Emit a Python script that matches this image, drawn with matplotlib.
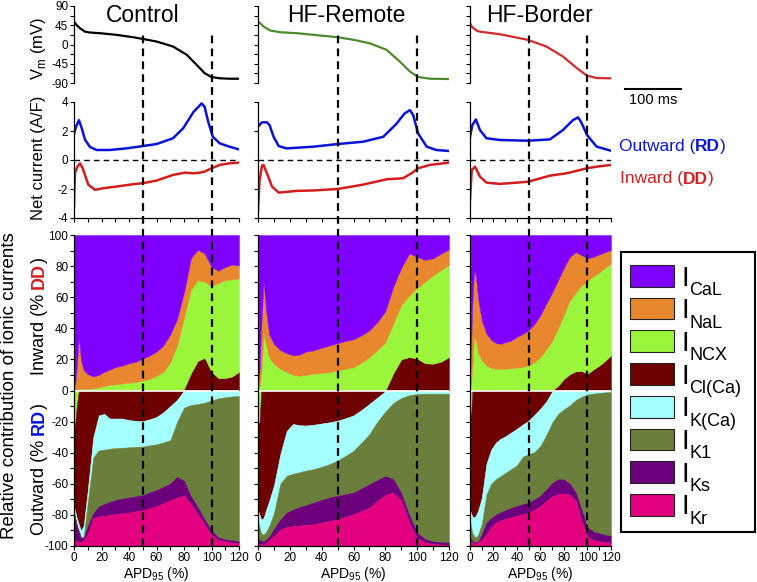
import matplotlib
matplotlib.use('Agg')
import matplotlib.pyplot as plt
from matplotlib.patches import Rectangle
from matplotlib.lines import Line2D
from matplotlib.ticker import MultipleLocator

plt.rcParams['font.family'] = ['Liberation Sans', 'DejaVu Sans']
plt.rcParams['axes.unicode_minus'] = False
plt.rcParams['mathtext.fontset'] = 'custom'
plt.rcParams['mathtext.rm'] = 'Liberation Sans'

# ---------------- data ----------------
titles = ['Control', 'HF-Remote', 'HF-Border']
cur_names = ['CaL', 'NaL', 'NCX', 'Cl(Ca)', 'K(Ca)', 'K1', 'Ks', 'Kr']
cur_colors = ['#8000FF', '#E8872E', '#9BF53A', '#6E0000', '#A6FFFF', '#6B7F3C', '#6C007C', '#E2007F']
dashed_apd = [50, 100]

apd = [0, 1, 2, 3.5, 5, 7, 10, 14, 18, 22, 26, 30, 35, 40, 45, 50, 55, 60, 65, 70,
       75, 80, 85, 90, 95, 100, 105, 110, 115, 120]

# cumulative upper boundaries of inward contributions (% DD), bottom -> top
ctrl_in_clca = [0]*21 + [1, 11, 19, 21, 12, 8, 8, 9, 12]
ctrl_in_ncx = [0, 0, 0.5, 1, 1, 1, 1, 1.5, 2, 3, 3.5, 4, 4.5, 5, 5.5, 6.5, 7.5, 9.5, 12, 18,
               29, 47, 65, 71, 70, 67, 69, 71, 71.5, 72]
ctrl_in_nal = [2, 5, 15, 35, 20, 13, 10.5, 9, 10, 12, 13.5, 15, 16, 17.5, 18.5, 20.5, 22.5, 25, 29, 36,
               46, 63, 85, 90.5, 88, 79.5, 77, 79.5, 81, 80.5]
# cumulative lower boundaries of outward contributions (% RD), top -> bottom
ctrl_out_ncx = [-25, -20, -10] + [0]*27
ctrl_out_clca = [-75, -78, -82, -86, -90, -87, -64, -30, -16, -15, -18, -18, -18, -19, -19.5, -19.7, -18.5, -17, -14, -10,
                 -6, 0, 0, 0, 0, 0, 0, 0, 0, 0]
ctrl_out_kca = [-78, -82, -86, -90, -94, -94, -72, -43, -38.5, -38, -37.4, -37, -36.8, -36.5, -36.2, -36, -35.2, -34.6, -33.3, -32,
                -20, -11, -9.3, -8.7, -7.8, -6.4, -5, -4.3, -3.8, -3.5]
ctrl_out_k1 = [-79, -83, -87, -91, -95, -95, -87, -79, -74.5, -73, -71.6, -70.5, -69.5, -68.8, -68, -67.3, -65.5, -64, -62, -59.8,
               -55.5, -58, -68, -75, -83, -90, -94.5, -95.8, -96.3, -97]
ctrl_out_ks = [-96, -97, -97, -97, -97.5, -96.5, -92, -82, -81, -80.5, -80, -79.5, -79, -78.5, -77.7, -77, -75.7, -74.4, -72.5, -70.5,
               -69, -67.5, -73, -79.5, -86.2, -93, -96, -97, -97.8, -98.3]

rem_in_clca = [0]*22 + [11, 20, 21.5, 20.5, 17.5, 17.2, 18.5, 21.5]
rem_in_ncx = [0, 3, 10, 36, 30, 21, 17, 14, 12, 10, 9.5, 10, 10.8, 11.3, 11.8, 12.9, 14, 15, 18, 21.5,
              26, 31, 43, 55, 61, 66, 70, 74, 77.5, 80.6]
rem_in_nal = [3, 13, 40, 70, 52, 36, 30, 26, 24, 22.6, 23, 25, 25.8, 27.5, 29, 30.5, 31.8, 33, 35.5, 38.7,
              44, 51, 66.7, 79, 88, 86, 84, 85, 88, 90.8]
rem_out_ncx = [-22, -20] + [0]*28
rem_out_clca = [-77, -80, -83, -82, -77, -71, -61, -41, -26, -21.5, -22.3, -22.5, -22, -21.2, -20.4, -19.4, -17.8, -16, -12.5, -8.6,
                -4.5, -0.5] + [0]*8
rem_out_kca = [-84, -88, -92, -92.5, -91, -87, -79, -60, -54.8, -53.5, -52.5, -51.5, -50.5, -49, -47.3, -45, -42, -38.7, -33.5, -28,
               -20, -13.5, -8, -4.8, -3, -2.2, -2, -2, -2, -2]
rem_out_k1 = [-95, -96, -96.5, -96.8, -96, -94, -89, -83, -78.5, -76.5, -75, -73.8, -72, -70.3, -68.8, -67.7, -66.7, -65.6, -63, -60.2,
              -57.5, -55, -57, -66, -80, -91.5, -95.5, -97, -97.5, -97.8]
rem_out_ks = [-98, -98.5, -99, -99, -98, -96, -93.5, -89.5, -87.7, -87.2, -86.8, -86.5, -86, -85, -83.9, -82.8, -81.2, -79.6, -77.5, -75.3,
              -71, -67, -65.6, -71, -85, -95, -97.8, -98.7, -99, -99.4]

bor_in_clca = [0]*20 + [3, 7.5, 10.5, 12.3, 12.5, 10.8, 13.5, 16, 19, 22.6]
bor_in_ncx = [0, 5, 15, 35, 32, 24, 19.4, 16, 14.5, 14, 14, 14, 14.3, 14.7, 15.3, 16, 18.5, 21.5, 26.5, 32,
              40, 49, 58, 63, 67.5, 70.5, 73.5, 76, 79, 81.7]
bor_in_nal = [5, 30, 56, 77, 73.5, 58.5, 45, 36.6, 32.5, 30.5, 30, 31, 32.2, 34.5, 36.5, 38.8, 43, 48.5, 56, 63,
              71, 79, 86, 89, 87, 85, 86, 87.5, 89, 90.3]
bor_out_ncx = [-15, -15] + [0]*28
bor_out_clca = [-77, -79, -81, -81.5, -80.5, -77, -69, -47, -38, -33.5, -31, -29.5, -27, -24.5, -21.8, -19.3, -15.5, -11.5, -7, -0.5] + [0]*10
bor_out_kca = [-84, -88, -91.5, -93.5, -94.5, -92.5, -86, -66.7, -60, -57, -55, -53, -50.5, -48, -42.5, -41, -39.5, -35.5, -28.5, -20.5,
               -15, -12, -9.5, -6, -4, -2.5, -2, -1.5, -1.2, -1]
bor_out_k1 = [-94.6, -95.5, -96.5, -97.5, -97.6, -96.8, -92.5, -85, -82, -79.8, -78.3, -77, -75.5, -74.2, -73, -72, -70, -67.6, -63.5, -59.5,
              -57, -57.2, -60, -65.5, -77, -88, -90.7, -91.8, -92.8, -93.5]
bor_out_ks = [-97, -97.5, -98, -98.5, -98.3, -97.5, -95.7, -92.5, -88, -85, -83.5, -82.5, -81.5, -80.6, -79.5, -78.5, -76.5, -74.2, -71, -68,
              -66.7, -66.2, -67, -71, -84, -94, -96.2, -97, -97.5, -97.8]

# membrane potential traces (mV)
ctrl_vm_x = [0, 2, 4.4, 8, 11.6, 19, 31, 43, 50, 60, 72, 82, 89, 95, 100, 106, 113, 120]
ctrl_vm = [53.5, 45, 38, 30, 28, 26.4, 22.5, 17, 13, 7, -4.7, -24, -47, -67, -76, -79, -80, -80]
rem_vm_x = [1, 3.5, 7.7, 14, 24.4, 35, 50, 60, 70, 80.8, 89, 95.4, 100.6, 108, 120]
rem_vm = [51, 42, 32.6, 28.7, 26.4, 22.5, 17, 11, 3, -12.4, -39.6, -63, -76, -80, -80.7]
bor_vm_x = [0, 2, 6, 8.5, 25.5, 49.4, 65, 79, 90.8, 99.6, 107.8, 120]
bor_vm = [49.6, 40, 32, 30, 24, 10.8, -4.7, -28, -55, -73, -78.4, -79]

# net currents (A/F)
ctrl_rd_x = [0, 1.5, 3.6, 5.6, 8, 11.6, 16.5, 26, 38, 50, 60, 72, 79.5, 86.8, 92.8, 95, 97.7, 101, 106, 113, 120]
ctrl_rd = [1.8, 2.3, 2.75, 2.2, 1.4, 0.9, 0.69, 0.69, 0.8, 0.96, 1.1, 1.5, 2.2, 3.3, 3.9, 3.67, 2.6, 1.6, 1.15, 0.92, 0.73]
ctrl_dd_x = [0, 0.7, 2.4, 4.4, 6.3, 10.4, 15.3, 21, 31, 43, 50, 60, 72, 80.7, 86.8, 91.6, 95, 100, 106, 113, 120]
ctrl_dd = [-3.2, -0.9, -0.46, -0.23, -0.57, -1.7, -2.06, -1.95, -1.83, -1.67, -1.6, -1.42, -1.03, -0.87, -0.92, -0.87, -0.8, -0.57, -0.34, -0.23, -0.18]
rem_rd_x = [0, 2.5, 5.6, 7.3, 9.8, 13, 18, 35, 50, 66, 78.7, 87, 92, 95.4, 97.5, 100.6, 106, 112, 120]
rem_rd = [2.3, 2.6, 2.6, 2.4, 1.6, 0.96, 0.8, 0.92, 1.1, 1.26, 1.6, 2.5, 3.2, 3.44, 3.1, 1.83, 0.92, 0.69, 0.62]
rem_dd_x = [0, 1, 2.5, 3.5, 5.6, 8.8, 13, 24.4, 35, 50, 66, 80.8, 91, 96.4, 100.6, 108, 120]
rem_dd = [-3.44, -1.4, -0.39, -0.34, -0.92, -1.83, -2.25, -2.13, -2.1, -2.0, -1.7, -1.33, -1.26, -0.92, -0.57, -0.34, -0.18]
bor_rd_x = [0, 2, 5, 8.5, 14, 25.5, 49.4, 68, 79, 87.6, 92, 94.7, 99.6, 107.8, 120]
bor_rd = [1.6, 2.4, 2.8, 2.06, 1.5, 1.38, 1.33, 1.42, 2.06, 2.75, 2.94, 2.6, 1.72, 0.92, 0.64]
bor_dd_x = [0, 1.5, 4.3, 8.5, 14, 25.5, 49.4, 68, 82, 99.6, 107.8, 120]
bor_dd = [-2.75, -0.69, -0.46, -1.15, -1.56, -1.65, -1.5, -1.08, -0.92, -0.57, -0.46, -0.34]

vm_colors = ['black', '#4E8A2E', '#D42A2A']
rd_color = '#0A14D8'
dd_color = '#D41E1E'

conditions = [
    dict(vm_x=ctrl_vm_x, vm=ctrl_vm, rd_x=ctrl_rd_x, rd=ctrl_rd, dd_x=ctrl_dd_x, dd=ctrl_dd,
         inward=[ctrl_in_clca, ctrl_in_ncx, ctrl_in_nal],
         outward=[ctrl_out_ncx, ctrl_out_clca, ctrl_out_kca, ctrl_out_k1, ctrl_out_ks]),
    dict(vm_x=rem_vm_x, vm=rem_vm, rd_x=rem_rd_x, rd=rem_rd, dd_x=rem_dd_x, dd=rem_dd,
         inward=[rem_in_clca, rem_in_ncx, rem_in_nal],
         outward=[rem_out_ncx, rem_out_clca, rem_out_kca, rem_out_k1, rem_out_ks]),
    dict(vm_x=bor_vm_x, vm=bor_vm, rd_x=bor_rd_x, rd=bor_rd, dd_x=bor_dd_x, dd=bor_dd,
         inward=[bor_in_clca, bor_in_ncx, bor_in_nal],
         outward=[bor_out_ncx, bor_out_clca, bor_out_kca, bor_out_k1, bor_out_ks]),
]
col = dict(zip(cur_names, cur_colors))
inward_order = ['Cl(Ca)', 'NCX', 'NaL', 'CaL']
outward_order = ['NCX', 'Cl(Ca)', 'K(Ca)', 'K1', 'Ks', 'Kr']

# ---------------- figure ----------------
W, H = 757, 582
fig = plt.figure(figsize=(W/100, H/100), dpi=100)
fig.patch.set_facecolor('white')

def rect(x0, y0, x1, y1):
    return [x0/W, 1 - y1/H, (x1 - x0)/W, (y1 - y0)/H]
def fx(x):
    return x/W
def fy(y):
    return 1 - y/H

col_px = [(74, 239), (258, 449), (470, 611)]
title_px = [143, 346, 540]

def style(ax, labels):
    for s in ['top', 'right']:
        ax.spines[s].set_visible(False)
    for s in ['left', 'bottom']:
        ax.spines[s].set_linewidth(0.9)
    ax.tick_params(axis='both', which='both', direction='out', length=3, width=0.8,
                   labelsize=8.5, pad=1.2)
    if not labels:
        ax.tick_params(labelleft=False)

for i, (cond, (x0, x1)) in enumerate(zip(conditions, col_px)):
    first = (i == 0)
    # Vm
    ax = fig.add_axes(rect(x0, 6, x1, 83))
    ax.plot(cond['vm_x'], cond['vm'], color=vm_colors[i], lw=1.6)
    ax.set_xlim(0, 120)
    ax.set_ylim(-90, 90)
    style(ax, first)
    ax.spines['bottom'].set_visible(False)
    ax.set_xticks([])
    ax.yaxis.set_major_locator(MultipleLocator(45))
    ax.yaxis.set_minor_locator(MultipleLocator(22.5))
    ax.patch.set_alpha(0)

    # net currents
    ax = fig.add_axes(rect(x0, 102, x1, 218))
    ax.axhline(0, color='black', lw=1.0, dashes=(4, 3))
    ax.plot(cond['rd_x'], cond['rd'], color=rd_color, lw=1.8)
    ax.plot(cond['dd_x'], cond['dd'], color=dd_color, lw=1.8)
    ax.set_xlim(0, 120)
    ax.set_ylim(-4, 4)
    style(ax, first)
    ax.set_yticks([-4, -2, 0, 2, 4])
    ax.xaxis.set_major_locator(MultipleLocator(10))
    ax.tick_params(labelbottom=False)
    ax.patch.set_alpha(0)

    # relative contributions
    ax = fig.add_axes(rect(x0, 235, x1, 546))
    lower = [0]*len(apd)
    for name, upper in zip(inward_order, cond['inward'] + [[100]*len(apd)]):
        ax.fill_between(apd, lower, upper, facecolor=col[name], edgecolor=col[name], lw=0.3)
        lower = upper
    upper = [0]*len(apd)
    for name, low in zip(outward_order, cond['outward'] + [[-100]*len(apd)]):
        ax.fill_between(apd, low, upper, facecolor=col[name], edgecolor=col[name], lw=0.3)
        upper = low
    ax.axhline(0, color='white', lw=1.2)
    ax.set_xlim(0, 120)
    ax.set_ylim(-100, 100)
    style(ax, first)
    ax.xaxis.set_major_locator(MultipleLocator(20))
    ax.xaxis.set_minor_locator(MultipleLocator(10))
    ax.yaxis.set_major_locator(MultipleLocator(20))
    ax.yaxis.set_minor_locator(MultipleLocator(10))
    ax.set_xlabel(r'APD$_{\mathregular{95}}$ (%)', fontsize=10, labelpad=1)

    # dashed reference lines across all panels
    ov = fig.add_axes(rect(x0, 32, x1, 546))
    ov.set_xlim(0, 120)
    ov.set_ylim(0, 1)
    ov.axis('off')
    ov.set_zorder(10)
    for v in dashed_apd:
        ov.axvline(v, color='black', lw=1.6, dashes=(3.5, 2.3))

    fig.text(fx(title_px[i]), fy(15), titles[i], fontsize=16.5, ha='center', va='center')

# ---------- rich text helper ----------
renderer = fig.canvas.get_renderer()

def adv(s, size, weight):
    t1 = fig.text(0, 0, s + '|', fontsize=size, fontweight=weight)
    t2 = fig.text(0, 0, '|', fontsize=size, fontweight=weight)
    w = t1.get_window_extent(renderer).width - t2.get_window_extent(renderer).width
    t1.remove()
    t2.remove()
    return w

def rich(pieces, x, y, size, vertical=False, center=False):
    widths = [adv(s, size, wt) for s, c, wt in pieces]
    pos = -sum(widths)/2 if center else 0
    for (s, c, wt), w in zip(pieces, widths):
        if vertical:
            fig.text(fx(x), fy(y - pos), s, fontsize=size, color=c, fontweight=wt,
                     rotation=90, rotation_mode='anchor', ha='left', va='baseline')
        else:
            fig.text(fx(x + pos), fy(y), s, fontsize=size, color=c, fontweight=wt,
                     ha='left', va='baseline')
        pos += w

# axis titles
fig.text(fx(38), fy(48), r'V$_{\mathregular{m}}$ (mV)', fontsize=12, rotation=90, ha='center', va='center')
fig.text(fx(38), fy(158), 'Net current (A/F)', fontsize=12, rotation=90, ha='center', va='center')
rich([('Inward (% ', 'black', 'normal'), ('DD', dd_color, 'bold'), (')', 'black', 'normal')],
     44, 316, 13, vertical=True, center=True)
rich([('Outward (% ', 'black', 'normal'), ('RD', rd_color, 'bold'), (')', 'black', 'normal')],
     44, 469, 13, vertical=True, center=True)
fig.text(fx(10), fy(386), 'Relative contribution of ionic currents', fontsize=13.5,
         rotation=90, ha='center', va='center')

# net current legend
rich([('Outward (', rd_color, 'normal'), ('RD', rd_color, 'bold'), (')', rd_color, 'normal')],
     619, 151, 12.5)
rich([('Inward (', dd_color, 'normal'), ('DD', dd_color, 'bold'), (')', dd_color, 'normal')],
     620, 183.5, 12.5)

# scale bar
fig.add_artist(Line2D([fx(625), fx(681)], [fy(89), fy(89)], color='black', lw=1.5))
fig.text(fx(653), fy(100), '100 ms', fontsize=10.5, ha='center', va='center')

# current legend
fig.add_artist(Rectangle((fx(621), fy(531.5)), (755 - 621)/W, (531.5 - 252)/H,
                         transform=fig.transFigure, fill=False, lw=1.5, ec='black'))
for k, (name, c) in enumerate(zip(cur_names, cur_colors)):
    top = 265 + k*32.7
    fig.add_artist(Rectangle((fx(630), fy(top + 21.7)), 44/W, 21.7/H,
                             transform=fig.transFigure, fc=c, ec='#222222', lw=0.8))
    fig.text(fx(681), fy(top + 20.5), 'I', fontsize=20, ha='left', va='baseline')
    fig.text(fx(689.5), fy(top + 30), name, fontsize=13, ha='left', va='baseline')

fig.savefig('out.png', dpi=100)
